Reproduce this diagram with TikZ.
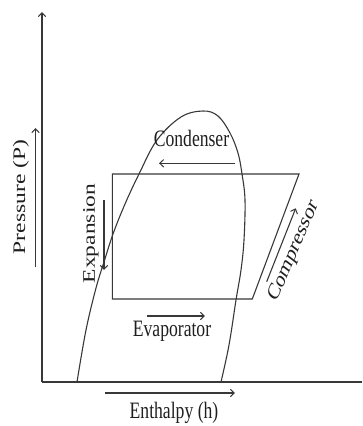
\documentclass[tikz,border=0pt]{standalone}
\usepackage{fontspec}
\setmainfont{Liberation Serif}
\usetikzlibrary{arrows.meta}
\begin{document}
\begin{tikzpicture}[x=1pt,y=-1pt,
  ln/.style={draw=black!78,line width=1.1pt},
  arr/.style={ln,-{Straight Barb[length=4pt,width=7.5pt,line width=1pt]}},
  lbl/.style={text=black!88,inner sep=0pt,font=\fontsize{23.5}{26}\selectfont},
]
\useasboundingbox (0,0) rectangle (362,426);
% axes
\coordinate (O) at (42,382);
\coordinate (Ytop) at (42,12);
\coordinate (Xend) at (362,382);
\draw[arr] (O) -- (Ytop);
\draw[ln] (O) -- (Xend);
% axis arrows and labels
\coordinate (pA) at (35.5,267);
\coordinate (pB) at (35.5,128);
\draw[arr] (pA) -- (pB);
\node[lbl,xscale=0.75,rotate=90] (press) at (21,197) {Pressure (P)};
\coordinate (hA) at (105,393);
\coordinate (hB) at (235,393);
\draw[arr] (hA) -- (hB);
\node[lbl,xscale=0.75,anchor=base] (enth) at (174,418.3) {Enthalpy (h)};
% saturation dome
\draw[ln] plot[smooth,tension=0.6] coordinates {(77,382) (86,330) (96,288) (104,262) (113,234) (125,204) (139,174) (157,140) (181,117) (203,111) (218,116) (230,133) (238,153) (242,174) (245,200) (244,240) (241,270) (236,300) (229,345) (221,382)};
% cycle
\coordinate (TL) at (112.3,174);
\coordinate (TR) at (299,174);
\coordinate (BR) at (252.3,299);
\coordinate (BL) at (112.3,299);
\draw[ln] (TL) -- (TR) -- (BR) -- (BL) -- cycle;
% condenser
\coordinate (cA) at (235,163.3);
\coordinate (cB) at (159,163.3);
\draw[arr] (cA) -- (cB);
\node[lbl,xscale=0.75,anchor=base] (cond) at (191.5,146.7) {Condenser};
% evaporator
\coordinate (eA) at (146.7,316);
\coordinate (eB) at (205,316);
\draw[arr] (eA) -- (eB);
\node[lbl,xscale=0.75,anchor=base] (evap) at (172,336.7) {Evaporator};
% expansion
\coordinate (xA) at (104,200);
\coordinate (xB) at (104,270);
\draw[arr] (xA) -- (xB);
\node[lbl,xscale=0.75,rotate=90] (expn) at (91,233.5) {Expansion};
% compressor
\coordinate (kA) at (266.7,281.7);
\coordinate (kB) at (295.7,208.3);
\draw[arr] (kA) -- (kB);
\node[lbl,xscale=0.75,rotate=60] (comp) at (294,251) {Compressor};
\end{tikzpicture}
\end{document}
